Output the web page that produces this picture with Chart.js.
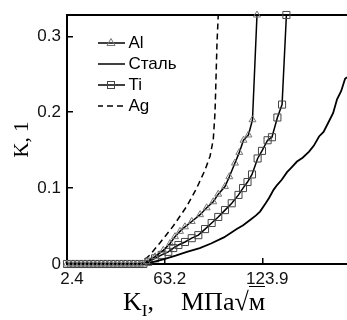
<!DOCTYPE html>
<html>
<head>
<meta charset="utf-8">
<script src="https://cdn.jsdelivr.net/npm/chart.js@4"></script>
<style>
body{margin:0;background:#fff;}
#wrap{position:relative;width:347px;height:320px;overflow:hidden;}
.xt{position:absolute;top:289px;font-family:"Liberation Serif";font-size:26px;line-height:26px;white-space:nowrap;color:#000;}
.xt sub{font-size:17px;vertical-align:-6px;line-height:0;}
.rt{border-top:1.5px solid #000;}
</style>
</head>
<body>
<div id="wrap">
<canvas id="chartCanvas" width="347" height="320"></canvas>
<div class="xt" style="left:123px">K<sub>I</sub>,</div>
<div class="xt" style="left:181px">МПа√<span class="rt">м</span></div>
</div>
<script>
const xMin = 2.4, xMax = 176.6, yMax = 0.328;
const xTicks = [2.4, 63.2, 123.9];
const yTicks = [0, 0.1, 0.2, 0.3];
const seriesLabels = ["Al", "Сталь", "Ti", "Ag"];

const alX = [2.4, 4.9, 7.4, 9.9, 12.4, 14.9, 17.4, 19.9, 22.4, 24.9, 27.4, 29.9, 32.4, 34.9, 37.4, 39.9, 42.4, 44.9, 47.4, 49.9,
  52.0, 57.2, 62.3, 66.5, 69.6, 72.7, 75.8, 80.0, 85.2, 89.3, 93.4, 96.5, 100.7, 103.4, 106.9, 109.6, 112.2, 115.3, 117.8, 120.6];
const alY = [0, 0, 0, 0, 0, 0, 0, 0, 0, 0, 0, 0, 0, 0, 0, 0, 0, 0, 0, 0,
  0.003, 0.0096, 0.018, 0.027, 0.036, 0.043, 0.049, 0.056, 0.065, 0.074, 0.082, 0.092, 0.102, 0.115, 0.133, 0.147, 0.163, 0.170, 0.190, 0.328];

const steelX = [2.4, 47.8, 55, 62.3, 70, 77, 85, 92, 100, 108, 112, 116.3, 120, 122.5, 126, 128.1, 131, 133.1, 136, 139.3,
  142, 145.5, 149, 153, 156, 159.2, 162, 165.4, 168, 170.4, 173, 175.4, 176.6];
const steelY = [0, 0, 0.002, 0.006, 0.011, 0.016, 0.021, 0.027, 0.035, 0.046, 0.051, 0.058, 0.064, 0.069, 0.080, 0.087, 0.098, 0.104, 0.111, 0.121,
  0.127, 0.135, 0.140, 0.148, 0.156, 0.168, 0.174, 0.188, 0.199, 0.217, 0.228, 0.244, 0.246];

const tiX = [2.4, 4.9, 7.4, 9.9, 12.4, 14.9, 17.4, 19.9, 22.4, 24.9, 27.4, 29.9, 32.4, 34.9, 37.4, 39.9, 42.4, 44.9, 47.4, 49.9,
  53.0, 57.2, 61.3, 65.4, 68.5, 71.7, 75.8, 80.0, 84.1, 88.3, 92.4, 96.5, 100.7, 104.9, 109.1, 111.9, 114.7, 117.5, 121.0, 123.7, 127.2, 129.9, 133.3, 136.2, 138.9];
const tiY = [0, 0, 0, 0, 0, 0, 0, 0, 0, 0, 0, 0, 0, 0, 0, 0, 0, 0, 0, 0,
  0.003, 0.0075, 0.012, 0.016, 0.021, 0.025, 0.029, 0.034, 0.038, 0.046, 0.054, 0.062, 0.071, 0.080, 0.091, 0.100, 0.108, 0.118, 0.139, 0.149, 0.163, 0.167, 0.193, 0.210, 0.328];

const agX = [2.4, 47.8, 54.0, 60.3, 68.5, 76.9, 83.1, 88.3, 91.4, 93.4, 94.5, 95.1, 95.7, 96.5];
const agY = [0, 0, 0.012, 0.028, 0.050, 0.076, 0.100, 0.124, 0.142, 0.164, 0.200, 0.244, 0.290, 0.328];

function pts(xs, ys) {
    return xs.map((x, i) => ({x: x, y: ys[i]}));
}

// small pictures for the legend: line with a marker in the middle
function makeIcon(kind) {
    const c = document.createElement("canvas");
    c.width = 28;
    c.height = 12;
    const g = c.getContext("2d");
    g.strokeStyle = "#000";
    g.lineWidth = 1.5;
    if (kind === "dash") g.setLineDash([6, 4]);
    g.beginPath();
    g.moveTo(0, 6);
    g.lineTo(28, 6);
    g.stroke();
    g.setLineDash([]);
    g.lineWidth = 1;
    if (kind === "triangle") {
        g.strokeStyle = "#777";
        g.beginPath();
        g.moveTo(14, 1.5);
        g.lineTo(18, 8.5);
        g.lineTo(10, 8.5);
        g.closePath();
        g.stroke();
    }
    if (kind === "rect") {
        g.strokeStyle = "#444";
        g.strokeRect(10.5, 2.5, 7, 7);
    }
    return c;
}

const legendIcons = [makeIcon("triangle"), makeIcon("line"), makeIcon("rect"), makeIcon("dash")];

const legendPlace = {
    id: "legendPlace",
    afterLayout(chart) {
        const lg = chart.legend;
        lg.left = 98;
        lg.top = 30.5;
        lg.right = 300;
        lg.bottom = 250;
    }
};

const tickFont = {family: "Liberation Sans", size: 17};

const chart = new Chart(document.getElementById("chartCanvas"), {
    type: "line",
    data: {
        datasets: [
            {label: seriesLabels[0], data: pts(alX, alY), borderColor: "#000", borderWidth: 1.5,
             pointStyle: "triangle", pointRadius: 4, pointBorderColor: "#777", pointBorderWidth: 1,
             pointBackgroundColor: "rgba(0,0,0,0)", tension: 0, clip: false},
            {label: seriesLabels[1], data: pts(steelX, steelY), borderColor: "#000", borderWidth: 1.8,
             pointRadius: 0, tension: 0, clip: false},
            {label: seriesLabels[2], data: pts(tiX, tiY), borderColor: "#000", borderWidth: 1.5,
             pointStyle: "rect", pointRadius: 5, pointBorderColor: "#444", pointBorderWidth: 1,
             pointBackgroundColor: "rgba(0,0,0,0)", tension: 0, clip: false},
            {label: seriesLabels[3], data: pts(agX, agY), borderColor: "#000", borderWidth: 1.5,
             borderDash: [6, 4], pointRadius: 0, tension: 0, clip: false}
        ]
    },
    options: {
        responsive: false,
        animation: false,
        events: [],
        layout: {padding: 0, autoPadding: false},
        plugins: {
            tooltip: {enabled: false},
            legend: {
                position: "chartArea",
                align: "start",
                labels: {
                    usePointStyle: true,
                    pointStyleWidth: 18,
                    padding: 4,
                    color: "#000",
                    font: tickFont,
                    generateLabels: ch => ch.data.datasets.map((ds, i) => ({
                        text: ds.label,
                        pointStyle: legendIcons[i],
                        datasetIndex: i,
                        hidden: false,
                        lineWidth: 0,
                        fillStyle: "rgba(0,0,0,0)",
                        strokeStyle: "rgba(0,0,0,0)",
                        fontColor: "#000"
                    }))
                }
            }
        },
        scales: {
            x: {
                type: "linear",
                min: xMin,
                max: xMax,
                afterBuildTicks: s => { s.ticks = xTicks.map(v => ({value: v})); },
                afterFit: s => { s.height = 56; s.paddingLeft = 0; s.paddingRight = 0; },
                grid: {drawOnChartArea: false, drawTicks: true, tickLength: -6, color: "#000", lineWidth: 1.5},
                border: {display: true, color: "#000", width: 2},
                ticks: {padding: 11, labelOffset: 5, font: tickFont, color: "#111", maxRotation: 0, autoSkip: false,
                        callback: v => String(v)}
            },
            xTop: {
                type: "linear",
                axis: "x",
                position: "top",
                min: xMin,
                max: xMax,
                afterFit: s => { s.height = 15; s.paddingLeft = 0; s.paddingRight = 0; },
                grid: {display: false, drawTicks: false},
                ticks: {display: false},
                border: {display: true, color: "#000", width: 2}
            },
            y: {
                min: 0,
                max: yMax,
                afterBuildTicks: s => { s.ticks = yTicks.map(v => ({value: v})); },
                afterFit: s => { s.width = 67; s.paddingTop = 0; s.paddingBottom = 0; },
                grid: {drawOnChartArea: false, drawTicks: true, tickLength: -6, color: "#000", lineWidth: 1.5},
                border: {display: true, color: "#000", width: 2},
                ticks: {padding: 12, font: tickFont, color: "#111", callback: v => String(v)},
                title: {display: true, text: "K, 1", color: "#000",
                        font: {family: "Liberation Serif", size: 21}, padding: {top: 9.5, bottom: 0}}
            }
        }
    },
    plugins: [legendPlace]
});
</script>
</body>
</html>
